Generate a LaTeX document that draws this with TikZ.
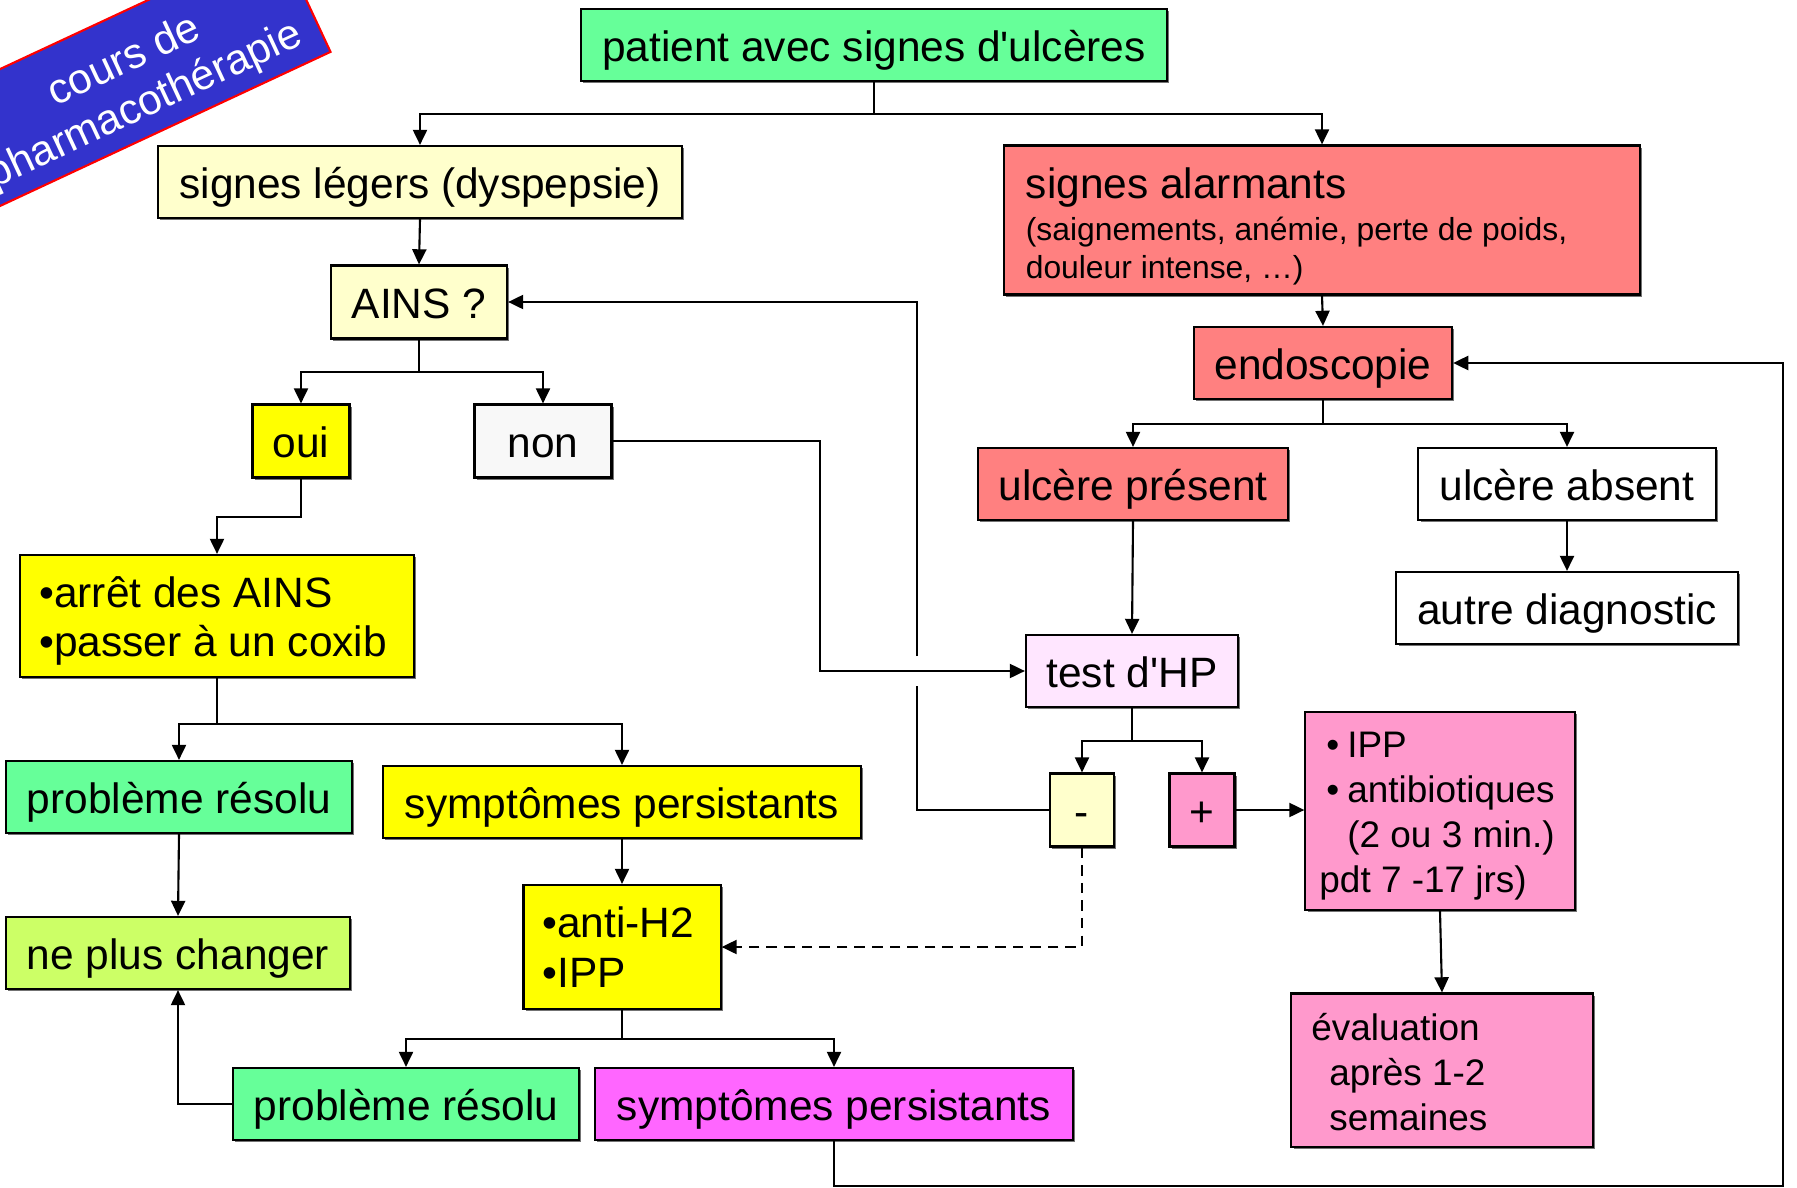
\documentclass[tikz,border=0pt]{standalone}
\usepackage{fontspec}
\setmainfont{Liberation Sans}[Ligatures=TeXOff]
\usetikzlibrary{arrows.meta,calc,shadows}
\definecolor{vert}{RGB}{102,255,153}
\definecolor{jaunep}{RGB}{255,255,204}
\definecolor{rouge}{RGB}{255,128,128}
\definecolor{jaune}{RGB}{255,255,0}
\definecolor{grisc}{RGB}{248,248,248}
\definecolor{rosep}{RGB}{255,230,255}
\definecolor{rose}{RGB}{255,153,204}
\definecolor{vertj}{RGB}{204,255,102}
\definecolor{magenta2}{RGB}{255,102,255}
\definecolor{bleu}{RGB}{51,51,204}
\newcommand\grand{\fontsize{12.07pt}{14.2pt}\selectfont}
\newcommand\moyen{\fontsize{10.5pt}{12.8pt}\selectfont}
\newcommand\petit{\fontsize{9.05pt}{10.8pt}\selectfont}
\newcommand\haut[1]{\rule{0pt}{#1}}
\tikzset{
  >={Triangle[length=4.3pt,width=4pt]},
  every path/.style={line width=0.6pt},
  box/.style={draw, inner sep=0pt, align=center, font=\grand, minimum height=0.72cm,
    drop shadow={shadow xshift=0.6pt,shadow yshift=-0.6pt,fill=black!55,opacity=1}},
  ligne/.style={text height=11.85pt, text depth=2.56pt},
  liste/.style={align=flush left, inner xsep=0.19cm},
}
\begin{document}
\begin{tikzpicture}[x=0.01cm,y=-0.01cm]
\useasboundingbox (0,0) rectangle (1797,1188);
\fill[white] (0,0) rectangle (1797,1188);
\node[draw=red, fill=bleu, rotate=25, minimum width=3.8cm, minimum height=1.24cm, inner sep=0pt] (banner) at (132,76) {};
\node[text=white, font=\fontsize{12.07pt}{13.8pt}\selectfont, rotate=25, align=center, inner sep=0pt] (bannertxt) at ($(banner.center)+(3,8)$) {cours de\\pharmacothérapie};
\node[box, ligne, fill=vert, minimum width=5.86cm] (patient) at (874,45) {patient avec signes d'ulcères};
\node[box, ligne, fill=jaunep, minimum width=5.24cm] (legers) at (420,182) {signes légers (dyspepsie)};
\node[box, liste, fill=rouge, minimum height=1.49cm, text width=5.92cm, inner xsep=0.22cm, font=\petit] (alarmants) at (1322,220) {{\grand\haut{12.4pt}signes alarmants}\\[1.2pt](saignements, anémie, perte de poids,\\douleur intense, …)};
\node[box, ligne, fill=jaunep, minimum width=1.76cm, minimum height=0.73cm] (ains) at (419,302) {AINS ?};
\node[box, ligne, fill=rouge, minimum width=2.58cm] (endo) at (1323,363) {endoscopie};
\node[box, ligne, fill=jaune, minimum width=0.97cm, minimum height=0.73cm] (oui) at (301,441) {oui};
\node[box, ligne, fill=grisc, minimum width=1.37cm, minimum height=0.73cm] (non) at (543,441) {non};
\node[box, ligne, fill=rouge, minimum width=3.10cm] (present) at (1133,484) {ulcère présent};
\node[box, ligne, fill=white, minimum width=2.97cm] (absent) at (1567,484) {ulcère absent};
\node[box, liste, fill=jaune, minimum height=1.22cm, text width=3.55cm] (arret) at (217,616) {\haut{11.6pt}•arrêt des AINS\\•passer à un coxib};
\node[box, ligne, fill=white, minimum width=3.41cm] (autre) at (1567,608) {autre diagnostic};
\node[box, ligne, fill=rosep, minimum width=2.12cm] (hp) at (1132,671) {test d'HP};
\node[box, liste, fill=rose, minimum width=2.69cm, minimum height=1.98cm, text width=2.41cm, inner xsep=0.14cm, font=\moyen] (ipp) at (1440,811) {\leftskip=0.07cm\haut{10.1pt}•\hspace{0.08cm}IPP\\•\hspace{0.08cm}antibiotiques\\\hphantom{•}\hspace*{0.08cm}(2 ou 3 min.)\\pdt 7 -17 jrs)};
\node[box, ligne, fill=vert, minimum width=3.46cm] (resolu1) at (179,797) {problème résolu};
\node[box, ligne, fill=jaune, minimum width=4.77cm] (persist1) at (622,802) {symptômes persistants};
\node[box, ligne, fill=jaunep, minimum width=0.64cm, minimum height=0.73cm] (neg) at (1082,810) {-};
\node[box, ligne, fill=rose, minimum width=0.65cm, minimum height=0.73cm] (pos) at (1202,810) {+};
\node[box, ligne, fill=vertj, minimum width=3.44cm] (changer) at (178,953) {ne plus changer};
\node[box, liste, fill=jaune, minimum height=1.24cm, text width=1.59cm] (antih2) at (622,947) {•anti-H2\\•IPP};
\node[box, liste, fill=rose, minimum height=1.53cm, text width=2.61cm, inner xsep=0.20cm, font=\moyen] (eval) at (1442,1070) {\haut{9.1pt}évaluation\\\hspace*{0.18cm}après 1-2\\\hspace*{0.18cm}semaines};
\node[box, ligne, fill=vert, minimum width=3.46cm] (resolu2) at (406,1104) {problème résolu};
\node[box, ligne, fill=magenta2, minimum width=4.78cm] (persist2) at (834,1104) {symptômes persistants};
\draw[->] (patient.south) -- ++(0,32) -| (legers.north);
\draw[->] (patient.south) -- ++(0,32) -| (alarmants.north);
\draw[->] (legers.south) -- (ains.north);
\draw[->] (ains.south) -- ++(0,32) -| (oui.north);
\draw[->] (ains.south) -- ++(0,32) -| (non.north);
\draw[->] (oui.south) -- ++(0,38) -| (arret.north);
\draw[->] (non.east) -- ++(207,0) |- (hp.west);
\draw[->] (alarmants.south) -- (endo.north);
\draw[->] (endo.south) -- ++(0,24) -| (present.north);
\draw[->] (endo.south) -- ++(0,24) -| (absent.north);
\draw[->] (present.south) -- (hp.north);
\draw[->] (absent.south) -- (autre.north);
\draw[->] (hp.south) -- ++(0,33) -| (neg.north);
\draw[->] (hp.south) -- ++(0,33) -| (pos.north);
\draw[->] (pos.east) -- (pos.east -| ipp.west);
\draw[->] (ipp.south) -- (eval.north);
\coordinate (saut) at (917,671);
\draw (neg.west) -| ($(saut)+(0,15)$);
\draw[->] ($(saut)+(0,-15)$) |- (ains.east);
\draw[->,dash pattern=on 3pt off 2pt] (neg.south) |- (antih2.east);
\draw[->] (arret.south) -- ++(0,46) -| (resolu1.north);
\draw[->] (arret.south) -- ++(0,46) -| (persist1.north);
\draw[->] (resolu1.south) -- (changer.north);
\draw[->] (persist1.south) -- (antih2.north);
\draw[->] (antih2.south) -- ++(0,29) -| (resolu2.north);
\draw[->] (antih2.south) -- ++(0,29) -| (persist2.north);
\draw[->] (resolu2.west) -| (changer.south);
\coordinate (coin) at (1783,1186);
\draw[->] (persist2.south) |- (coin) |- (endo.east);
\end{tikzpicture}
\end{document}
